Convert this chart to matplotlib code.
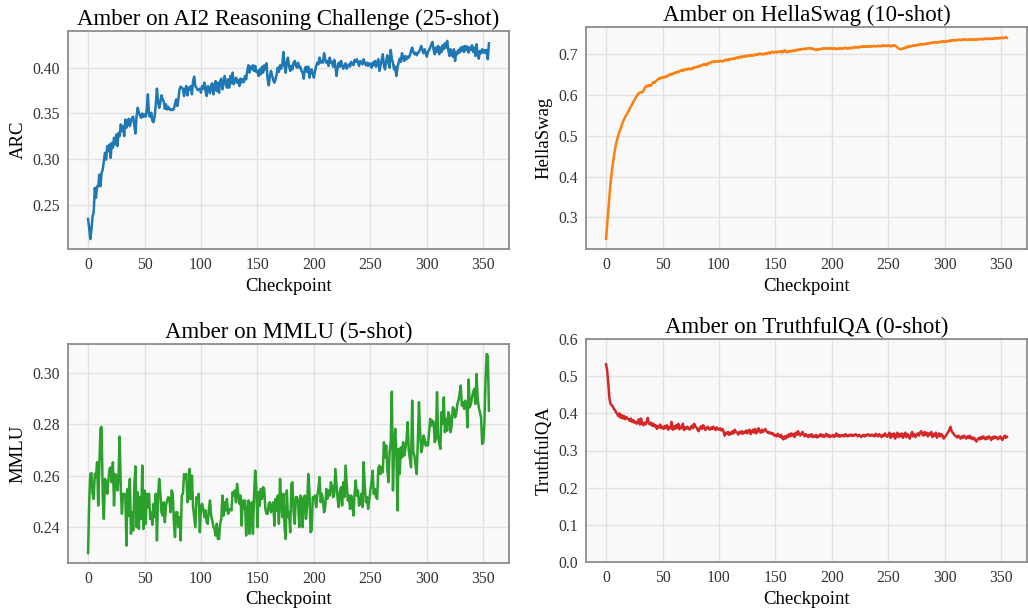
from matplotlib import pyplot as plt
import numpy as np

plt.rcParams['font.family'] = ['Liberation Serif', 'DejaVu Serif']

checkpoints = np.arange(356)

arc = [
    0.2344, 0.2245, 0.2124, 0.2226, 0.2373, 0.2417, 0.2684, 0.2574, 0.2702, 0.2702,
    0.2830, 0.2702, 0.2848, 0.2885, 0.2976, 0.3068, 0.2994, 0.3141, 0.3086, 0.3159,
    0.3013, 0.3177, 0.3123, 0.3232, 0.3159, 0.3269, 0.3141, 0.3287, 0.3251, 0.3379,
    0.3305, 0.3360, 0.3251, 0.3433, 0.3342, 0.3397, 0.3441, 0.3360, 0.3415, 0.3452,
    0.3463, 0.3360, 0.3280, 0.3477, 0.3561, 0.3507, 0.3477, 0.3452, 0.3499, 0.3463,
    0.3488, 0.3463, 0.3543, 0.3708, 0.3477, 0.3463, 0.3507, 0.3415, 0.3404, 0.3470,
    0.3598, 0.3770, 0.3635, 0.3561, 0.3616, 0.3697, 0.3653, 0.3635, 0.3550, 0.3598,
    0.3543, 0.3572, 0.3550, 0.3536, 0.3543, 0.3536, 0.3550, 0.3598, 0.3653, 0.3580,
    0.3653, 0.3763, 0.3792, 0.3781, 0.3770, 0.3690, 0.3763, 0.3799, 0.3697, 0.3781,
    0.3763, 0.3799, 0.3708, 0.3854, 0.3902, 0.3799, 0.3781, 0.3755, 0.3763, 0.3770,
    0.3726, 0.3799, 0.3770, 0.3836, 0.3744, 0.3690, 0.3799, 0.3781, 0.3719, 0.3807,
    0.3829, 0.3708, 0.3799, 0.3854, 0.3744, 0.3836, 0.3726, 0.3854, 0.3880, 0.3763,
    0.3818, 0.3909, 0.3836, 0.3781, 0.3873, 0.3781, 0.3909, 0.3829, 0.3946, 0.3818,
    0.3854, 0.3891, 0.3836, 0.3865, 0.3799, 0.3880, 0.3836, 0.3873, 0.3843, 0.3909,
    0.3873, 0.3964, 0.4026, 0.3946, 0.4011, 0.3982, 0.4026, 0.3964, 0.4019, 0.3953,
    0.3964, 0.3909, 0.3982, 0.3927, 0.4011, 0.3946, 0.4026, 0.3982, 0.4048, 0.3873,
    0.3807, 0.3909, 0.3964, 0.3916, 0.3865, 0.3836, 0.3873, 0.3927, 0.4000, 0.3953,
    0.4026, 0.3989, 0.4037, 0.4172, 0.4019, 0.3946, 0.4063, 0.4110, 0.4019, 0.3964,
    0.4019, 0.3982, 0.4055, 0.4074, 0.4026, 0.4000, 0.4055, 0.4000, 0.4011, 0.3964,
    0.3946, 0.3880, 0.3989, 0.4011, 0.3953, 0.4011, 0.3891, 0.3964, 0.3982, 0.3927,
    0.3891, 0.3964, 0.4019, 0.4055, 0.4037, 0.4110, 0.4055, 0.4074, 0.4055, 0.4158,
    0.4092, 0.4055, 0.4074, 0.4019, 0.4110, 0.4055, 0.4063, 0.4011, 0.4085, 0.4019,
    0.3909, 0.4000, 0.4055, 0.4011, 0.4074, 0.4026, 0.3989, 0.4019, 0.4048, 0.3989,
    0.4019, 0.4037, 0.4011, 0.4063, 0.4048, 0.4026, 0.4085, 0.4063, 0.4092, 0.4055,
    0.4019, 0.4074, 0.4055, 0.4037, 0.4092, 0.4055, 0.4026, 0.4055, 0.4019, 0.4048,
    0.4037, 0.4000, 0.4055, 0.4026, 0.4074, 0.4011, 0.4055, 0.4092, 0.3964, 0.4026,
    0.4092, 0.4147, 0.4019, 0.3982, 0.4074, 0.4136, 0.4055, 0.4000, 0.4194, 0.4092,
    0.4055, 0.3982, 0.4011, 0.3909, 0.4000, 0.4055, 0.4099, 0.4063, 0.4158, 0.4110,
    0.4074, 0.4128, 0.4092, 0.4121, 0.4110, 0.4136, 0.4183, 0.4220, 0.4172, 0.4147,
    0.4165, 0.4136, 0.4158, 0.4172, 0.4202, 0.4238, 0.4194, 0.4158, 0.4202, 0.4165,
    0.4121, 0.4172, 0.4194, 0.4220, 0.4256, 0.4282, 0.4194, 0.4147, 0.4220, 0.4172,
    0.4238, 0.4147, 0.4220, 0.4172, 0.4245, 0.4202, 0.4267, 0.4220, 0.4293, 0.4194,
    0.4128, 0.4202, 0.4158, 0.4121, 0.4202, 0.4074, 0.4172, 0.4147, 0.4194, 0.4165,
    0.4220, 0.4183, 0.4231, 0.4172, 0.4238, 0.4194, 0.4231, 0.4165, 0.4220, 0.4194,
    0.4245, 0.4172, 0.4220, 0.4128, 0.4256, 0.4147, 0.4099, 0.4183, 0.4158, 0.4202,
    0.4165, 0.4194, 0.4158, 0.4194, 0.4092, 0.4267,
]

hellaswag = [
    0.247, 0.283, 0.318, 0.352, 0.385, 0.410, 0.430, 0.450, 0.468, 0.482,
    0.493, 0.503, 0.511, 0.518, 0.527, 0.534, 0.541, 0.546, 0.551, 0.556,
    0.561, 0.566, 0.572, 0.577, 0.582, 0.587, 0.592, 0.597, 0.601, 0.604,
    0.606, 0.607, 0.606, 0.610, 0.616, 0.620, 0.623, 0.621, 0.624, 0.622,
    0.624, 0.628, 0.632, 0.630, 0.634, 0.636, 0.639, 0.641, 0.640, 0.643,
    0.642, 0.644, 0.643, 0.646, 0.645, 0.648, 0.650, 0.649, 0.652, 0.651,
    0.653, 0.655, 0.654, 0.657, 0.656, 0.658, 0.660, 0.659, 0.662, 0.660,
    0.663, 0.664, 0.662, 0.665, 0.664, 0.663, 0.666, 0.665, 0.668, 0.667,
    0.668, 0.670, 0.669, 0.672, 0.671, 0.673, 0.675, 0.674, 0.676, 0.673,
    0.677, 0.679, 0.677, 0.680, 0.682, 0.681, 0.683, 0.681, 0.682, 0.683,
    0.682, 0.684, 0.683, 0.682, 0.684, 0.686, 0.685, 0.687, 0.685, 0.688,
    0.687, 0.689, 0.688, 0.690, 0.689, 0.691, 0.692, 0.690, 0.693, 0.694,
    0.692, 0.695, 0.694, 0.696, 0.694, 0.697, 0.695, 0.697, 0.698, 0.696,
    0.698, 0.697, 0.699, 0.700, 0.698, 0.700, 0.702, 0.700, 0.701, 0.699,
    0.701, 0.702, 0.700, 0.703, 0.704, 0.702, 0.705, 0.706, 0.704, 0.705,
    0.706, 0.704, 0.707, 0.705, 0.706, 0.708, 0.704, 0.707, 0.710, 0.706,
    0.705, 0.707, 0.706, 0.708, 0.707, 0.709, 0.708, 0.710, 0.709, 0.711,
    0.710, 0.712, 0.711, 0.713, 0.712, 0.713, 0.714, 0.712, 0.714, 0.715,
    0.714, 0.715, 0.713, 0.714, 0.712, 0.711, 0.710, 0.712, 0.711, 0.713,
    0.712, 0.714, 0.713, 0.715, 0.714, 0.713, 0.715, 0.714, 0.713, 0.715,
    0.714, 0.713, 0.715, 0.714, 0.712, 0.714, 0.713, 0.715, 0.714, 0.713,
    0.715, 0.714, 0.716, 0.715, 0.713, 0.715, 0.716, 0.714, 0.716, 0.717,
    0.716, 0.718, 0.717, 0.716, 0.718, 0.717, 0.719, 0.718, 0.720, 0.718,
    0.719, 0.718, 0.720, 0.719, 0.718, 0.720, 0.719, 0.721, 0.719, 0.720,
    0.719, 0.721, 0.720, 0.719, 0.721, 0.720, 0.722, 0.720, 0.721, 0.720,
    0.722, 0.721, 0.719, 0.721, 0.720, 0.722, 0.721, 0.719, 0.716, 0.714,
    0.713, 0.712, 0.714, 0.713, 0.715, 0.717, 0.716, 0.719, 0.718, 0.720,
    0.719, 0.721, 0.720, 0.722, 0.721, 0.723, 0.722, 0.724, 0.723, 0.725,
    0.724, 0.725, 0.724, 0.726, 0.725, 0.727, 0.726, 0.728, 0.727, 0.729,
    0.728, 0.730, 0.729, 0.728, 0.730, 0.729, 0.731, 0.730, 0.732, 0.731,
    0.730, 0.732, 0.731, 0.733, 0.732, 0.734, 0.733, 0.735, 0.734, 0.733,
    0.735, 0.734, 0.736, 0.735, 0.734, 0.736, 0.735, 0.737, 0.736, 0.735,
    0.736, 0.735, 0.737, 0.736, 0.735, 0.737, 0.736, 0.735, 0.737, 0.736,
    0.737, 0.736, 0.738, 0.737, 0.736, 0.738, 0.737, 0.739, 0.738, 0.737,
    0.739, 0.738, 0.737, 0.739, 0.738, 0.740, 0.739, 0.738, 0.740, 0.739,
    0.741, 0.740, 0.739, 0.741, 0.742, 0.740,
]

mmlu = [
    0.2298, 0.2496, 0.2606, 0.2610, 0.2530, 0.2509, 0.2606, 0.2594, 0.2652, 0.2483,
    0.2632, 0.2785, 0.2790, 0.2522, 0.2431, 0.2587, 0.2574, 0.2529, 0.2581, 0.2626,
    0.2632, 0.2574, 0.2652, 0.2483, 0.2606, 0.2600, 0.2542, 0.2600, 0.2752, 0.2542,
    0.2451, 0.2529, 0.2522, 0.2529, 0.2327, 0.2548, 0.2444, 0.2587, 0.2373, 0.2457,
    0.2386, 0.2561, 0.2636, 0.2399, 0.2535, 0.2392, 0.2516, 0.2431, 0.2639, 0.2392,
    0.2542, 0.2412, 0.2529, 0.2477, 0.2529, 0.2431, 0.2457, 0.2408, 0.2490, 0.2438,
    0.2529, 0.2347, 0.2516, 0.2587, 0.2535, 0.2457, 0.2444, 0.2496, 0.2418, 0.2483,
    0.2503, 0.2516, 0.2509, 0.2457, 0.2542, 0.2529, 0.2418, 0.2360, 0.2457, 0.2457,
    0.2399, 0.2438, 0.2347, 0.2522, 0.2529, 0.2606, 0.2587, 0.2606, 0.2496, 0.2509,
    0.2626, 0.2509, 0.2600, 0.2477, 0.2438, 0.2399, 0.2516, 0.2509, 0.2529, 0.2379,
    0.2477, 0.2490, 0.2470, 0.2438, 0.2464, 0.2418, 0.2412, 0.2470, 0.2503, 0.2444,
    0.2425, 0.2399, 0.2392, 0.2366, 0.2412, 0.2353, 0.2353, 0.2412, 0.2431, 0.2522,
    0.2444, 0.2496, 0.2464, 0.2509, 0.2451, 0.2464, 0.2470, 0.2464, 0.2535, 0.2522,
    0.2542, 0.2496, 0.2568, 0.2529, 0.2490, 0.2522, 0.2405, 0.2503, 0.2470, 0.2503,
    0.2366, 0.2457, 0.2503, 0.2373, 0.2444, 0.2496, 0.2373, 0.2522, 0.2619, 0.2548,
    0.2399, 0.2535, 0.2483, 0.2548, 0.2509, 0.2555, 0.2548, 0.2470, 0.2451, 0.2451,
    0.2490, 0.2496, 0.2457, 0.2483, 0.2496, 0.2405, 0.2509, 0.2464, 0.2522, 0.2412,
    0.2587, 0.2496, 0.2438, 0.2529, 0.2400, 0.2353, 0.2542, 0.2438, 0.2457, 0.2379,
    0.2568, 0.2574, 0.2457, 0.2412, 0.2516, 0.2516, 0.2496, 0.2399, 0.2522, 0.2509,
    0.2399, 0.2516, 0.2522, 0.2431, 0.2483, 0.2606, 0.2542, 0.2379, 0.2386, 0.2516,
    0.2509, 0.2522, 0.2477, 0.2522, 0.2548, 0.2594, 0.2496, 0.2529, 0.2503, 0.2457,
    0.2477, 0.2548, 0.2509, 0.2542, 0.2522, 0.2574, 0.2561, 0.2516, 0.2529, 0.2626,
    0.2568, 0.2509, 0.2477, 0.2535, 0.2555, 0.2483, 0.2574, 0.2516, 0.2639, 0.2574,
    0.2503, 0.2522, 0.2470, 0.2522, 0.2490, 0.2444, 0.2529, 0.2581, 0.2522, 0.2542,
    0.2483, 0.2496, 0.2529, 0.2477, 0.2652, 0.2561, 0.2496, 0.2516, 0.2470, 0.2503,
    0.2542, 0.2574, 0.2619, 0.2529, 0.2548, 0.2516, 0.2509, 0.2626, 0.2639, 0.2606,
    0.2632, 0.2613, 0.2730, 0.2671, 0.2717, 0.2626, 0.2574, 0.2691, 0.2730, 0.2927,
    0.2542, 0.2717, 0.2782, 0.2691, 0.2464, 0.2704, 0.2606, 0.2710, 0.2671, 0.2730,
    0.2678, 0.2704, 0.2736, 0.2808, 0.2697, 0.2665, 0.2632, 0.2892, 0.2691, 0.2678,
    0.2639, 0.2606, 0.2730, 0.2886, 0.2775, 0.2691, 0.2710, 0.2756, 0.2743, 0.2717,
    0.2730, 0.2717, 0.2769, 0.2821, 0.2795, 0.2814, 0.2808, 0.2730, 0.2743, 0.2925,
    0.2756, 0.2723, 0.2704, 0.2847, 0.2801, 0.2905, 0.2769, 0.2821, 0.2775, 0.2847,
    0.2834, 0.2769, 0.2795, 0.2866, 0.2860, 0.2827, 0.2840, 0.2879, 0.2892, 0.2918,
    0.2951, 0.2873, 0.2886, 0.2860, 0.2892, 0.2879, 0.2788, 0.2974, 0.2866, 0.2879,
    0.2905, 0.2925, 0.2938, 0.2879, 0.2996, 0.2899, 0.2866, 0.2847, 0.2827, 0.2723,
    0.2730, 0.2808, 0.2977, 0.3074, 0.3067, 0.2853,
]

truthfulqa = [
    0.532, 0.515, 0.480, 0.440, 0.425, 0.422, 0.418, 0.412, 0.408, 0.402,
    0.398, 0.392, 0.400, 0.388, 0.395, 0.386, 0.393, 0.384, 0.390, 0.386,
    0.384, 0.380, 0.386, 0.377, 0.382, 0.375, 0.378, 0.372, 0.374, 0.384,
    0.370, 0.386, 0.372, 0.368, 0.375, 0.370, 0.378, 0.388, 0.372, 0.370,
    0.375, 0.366, 0.372, 0.365, 0.368, 0.358, 0.366, 0.362, 0.370, 0.360,
    0.364, 0.358, 0.366, 0.360, 0.368, 0.356, 0.363, 0.360, 0.377, 0.356,
    0.365, 0.358, 0.368, 0.360, 0.372, 0.357, 0.364, 0.360, 0.372, 0.355,
    0.362, 0.358, 0.364, 0.360, 0.356, 0.362, 0.367, 0.360, 0.372, 0.365,
    0.362, 0.356, 0.352, 0.360, 0.365, 0.358, 0.368, 0.363, 0.355, 0.360,
    0.364, 0.358, 0.356, 0.362, 0.358, 0.364, 0.360, 0.355, 0.362, 0.358,
    0.356, 0.360, 0.354, 0.358, 0.352, 0.340, 0.348, 0.345, 0.350, 0.342,
    0.348, 0.344, 0.352, 0.346, 0.356, 0.350, 0.348, 0.343, 0.350, 0.346,
    0.352, 0.345, 0.350, 0.348, 0.354, 0.346, 0.352, 0.356, 0.344, 0.350,
    0.356, 0.348, 0.358, 0.346, 0.352, 0.360, 0.350, 0.348, 0.356, 0.350,
    0.354, 0.358, 0.352, 0.348, 0.350, 0.346, 0.348, 0.344, 0.346, 0.340,
    0.342, 0.338, 0.345, 0.340, 0.336, 0.342, 0.334, 0.330, 0.338, 0.332,
    0.340, 0.336, 0.344, 0.338, 0.346, 0.340, 0.345, 0.336, 0.348, 0.342,
    0.352, 0.344, 0.340, 0.346, 0.350, 0.342, 0.338, 0.344, 0.340, 0.336,
    0.342, 0.338, 0.344, 0.336, 0.340, 0.337, 0.342, 0.335, 0.340, 0.338,
    0.344, 0.338, 0.342, 0.336, 0.340, 0.345, 0.338, 0.342, 0.336, 0.340,
    0.338, 0.342, 0.336, 0.340, 0.346, 0.338, 0.342, 0.337, 0.341, 0.339,
    0.342, 0.338, 0.344, 0.340, 0.338, 0.342, 0.340, 0.343, 0.339, 0.342,
    0.340, 0.344, 0.341, 0.338, 0.342, 0.340, 0.336, 0.340, 0.342, 0.338,
    0.342, 0.340, 0.344, 0.341, 0.339, 0.343, 0.340, 0.342, 0.338, 0.345,
    0.341, 0.338, 0.344, 0.340, 0.336, 0.342, 0.339, 0.346, 0.340, 0.337,
    0.342, 0.348, 0.334, 0.344, 0.338, 0.346, 0.332, 0.342, 0.348, 0.336,
    0.344, 0.338, 0.346, 0.334, 0.342, 0.348, 0.336, 0.344, 0.338, 0.332,
    0.342, 0.350, 0.338, 0.344, 0.336, 0.342, 0.346, 0.340, 0.348, 0.352,
    0.344, 0.340, 0.350, 0.342, 0.348, 0.338, 0.346, 0.342, 0.350, 0.336,
    0.344, 0.340, 0.348, 0.334, 0.342, 0.346, 0.338, 0.344, 0.340, 0.332,
    0.336, 0.340, 0.345, 0.350, 0.356, 0.364, 0.352, 0.348, 0.344, 0.340,
    0.338, 0.335, 0.340, 0.336, 0.332, 0.338, 0.334, 0.340, 0.336, 0.332,
    0.338, 0.334, 0.340, 0.332, 0.336, 0.330, 0.334, 0.328, 0.324, 0.330,
    0.334, 0.330, 0.336, 0.332, 0.338, 0.334, 0.330, 0.336, 0.332, 0.338,
    0.334, 0.328, 0.336, 0.332, 0.338, 0.334, 0.336, 0.330, 0.334, 0.338,
    0.332, 0.328, 0.336, 0.340, 0.334, 0.337,
]

W, H = 1028, 609
fig = plt.figure(figsize=(W / 100, H / 100), dpi=100)


def box(left, top, right, bottom):
    return [left / W, 1 - bottom / H, (right - left) / W, (bottom - top) / H]


panels = [
    (box(68, 31, 509, 249), arc, "#1f77b4", "ARC", "Amber on AI2 Reasoning Challenge (25-shot)"),
    (box(586, 27, 1027, 249), hellaswag, "#ff7f0e", "HellaSwag", "Amber on HellaSwag (10-shot)"),
    (box(68, 344, 509, 563), mmlu, "#2ca02c", "MMLU", "Amber on MMLU (5-shot)"),
    (box(586, 339, 1027, 562), truthfulqa, "#d62728", "TruthfulQA", "Amber on TruthfulQA (0-shot)"),
]

for rect, vals, color, ylab, title in panels:
    ax = fig.add_axes(rect)
    ax.set_facecolor("#f9f9f9")
    ax.plot(checkpoints, vals, color=color, lw=1.8)
    ax.grid(True, color="#e2e2e2", lw=1.0)
    ax.set_axisbelow(True)
    for s in ax.spines.values():
        s.set_color("#8c8c8c")
        s.set_linewidth(1.3)
    ax.tick_params(length=0, pad=6, labelsize=11.3, labelcolor="#333333")
    ax.set_xticks([0, 50, 100, 150, 200, 250, 300, 350])
    ax.set_xlabel("Checkpoint", fontsize=13.5, labelpad=3)
    ax.set_ylabel(ylab, fontsize=13.5)
    ax.set_title(title, fontsize=16.5, pad=4)
    if ylab == "TruthfulQA":
        ax.set_ylim(0, 0.6)

fig.savefig("out.png", dpi=100)
